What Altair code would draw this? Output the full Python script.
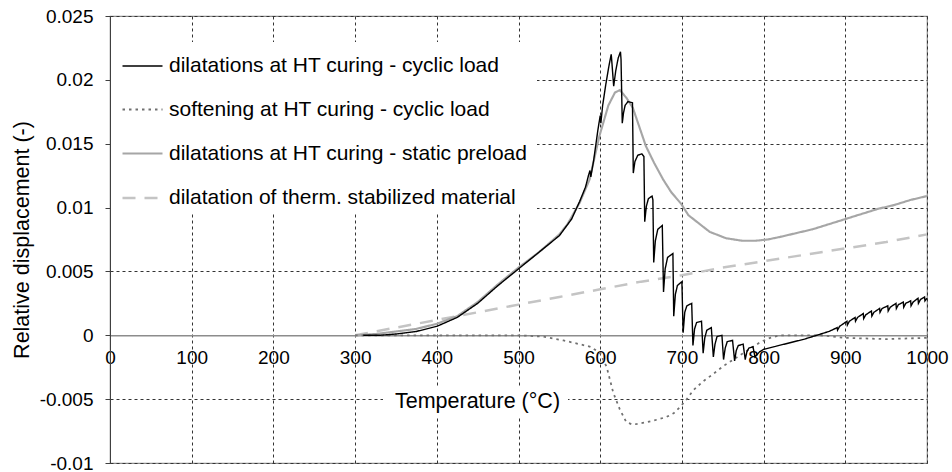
import altair as alt
import pandas as pd

series_names = [
    "dilatations at HT curing - cyclic load",
    "softening at HT curing - cyclic load",
    "dilatations at HT curing - static preload",
    "dilatation of therm. stabilized material",
]

x_ticks = [0, 100, 200, 300, 400, 500, 600, 700, 800, 900, 1000]
y_ticks = [-0.01, -0.005, 0, 0.005, 0.01, 0.015, 0.02, 0.025]

cyc_T = [310, 330, 350, 375, 400, 425, 450, 475, 500, 525, 550, 565, 575, 582, 586, 587.5, 588.5,
         592, 597, 600, 600.8, 603, 607, 611, 613.5, 614.5, 616.5, 619, 622, 624.8, 625.5, 627,
         628.5, 630.5, 634, 639.5, 640.5, 642.5, 646, 651, 653.5, 654.5, 656.5, 659, 663.5, 664.5,
         665.5, 667.5, 670.5, 676, 677.5, 679.5, 682.5, 689, 690, 692, 694.5, 700, 701.5, 703.5,
         706, 712, 713.5, 715.5, 718, 724, 726, 728, 730.5, 736, 738.5, 740.5, 743, 749, 751, 753,
         755.5, 762, 764.5, 766.5, 769, 775, 777.5, 779.5, 782, 787, 789.5, 795, 800, 825, 850,
         865, 880, 890, 890.5, 893, 902, 902.5, 905, 912, 912.5, 915, 922, 922.5, 925, 932, 932.5,
         935, 942, 942.5, 945, 952, 952.5, 955, 962, 962.5, 965, 971, 971.5, 974, 980, 980.5, 983,
         989, 989.5, 992, 997, 997.5, 1000]
cyc_V = [0.0, 0.0, 0.0001, 0.0003, 0.0007, 0.0014, 0.0025, 0.0039, 0.0052, 0.0065, 0.0078, 0.0091,
         0.0105, 0.0116, 0.0126, 0.0129, 0.0124, 0.0137, 0.0160, 0.0172, 0.0166, 0.0180, 0.0197,
         0.0212, 0.0220, 0.0212, 0.0195, 0.0207, 0.0217, 0.0222, 0.0216, 0.0166, 0.0174, 0.0180,
         0.0183, 0.0182, 0.0127, 0.0136, 0.0141, 0.0142, 0.0140, 0.0089, 0.0101, 0.0107, 0.0109,
         0.0106, 0.0057, 0.0074, 0.0083, 0.0086, 0.0034, 0.0052, 0.0061, 0.0064, 0.0015, 0.0032,
         0.0039, 0.0042, 0.0002, 0.0018, 0.0023, 0.0025, -0.0008, 0.0005, 0.0010, 0.0011, -0.0014,
         -0.0002, 0.0004, 0.0006, -0.0017, -0.0007, -0.0001, 0.0000, -0.0019, -0.0010, -0.0005,
         -0.0004, -0.0020, -0.0012, -0.0008, -0.0007, -0.0019, -0.0013, -0.0010, -0.0009, -0.0017,
         -0.0013, -0.0011, -0.0007, -0.0003, 0.0000, 0.0003, 0.0006, 0.0004, 0.0007, 0.0011, 0.0008,
         0.0011, 0.0014, 0.0011, 0.0014, 0.0017, 0.0013, 0.0016, 0.0019, 0.0015, 0.0018, 0.0021,
         0.0018, 0.0021, 0.0023, 0.0019, 0.0022, 0.0025, 0.0021, 0.0024, 0.0026, 0.0022, 0.0025,
         0.0027, 0.0023, 0.0026, 0.0029, 0.0025, 0.0028, 0.0030, 0.0027, 0.0029]

soft_T = [300, 350, 400, 450, 500, 530, 555, 575, 588, 600, 608, 616, 624, 632, 640, 648, 657, 670,
          681, 690, 698, 706, 714, 726, 739, 751, 763, 775, 787, 797, 808, 820, 845, 870, 900, 950,
          1000]
soft_V = [0.0, 0.0, 0.0, 0.0, 0.0, -0.0001, -0.0004, -0.0007, -0.0009, -0.0014, -0.0025, -0.0045,
          -0.0058, -0.0068, -0.0070, -0.0069, -0.0068, -0.0066, -0.0064, -0.0061, -0.0056, -0.0050,
          -0.0043, -0.0036, -0.0030, -0.0024, -0.0019, -0.0014, -0.0009, -0.0005, -0.0002, 0.0,
          0.0, 0.0, -0.0002, -0.0003, -0.0002]

stat_T = [300, 325, 350, 375, 400, 425, 450, 475, 500, 525, 550, 560, 575, 587, 599, 610, 618, 624,
          632, 640, 648, 656, 666, 677, 687, 699, 708, 718, 734, 754, 774, 790, 805, 820, 840, 860,
          880, 900, 920, 940, 960, 980, 1000]
stat_V = [0.0, 0.0001, 0.0003, 0.0005, 0.0009, 0.0015, 0.0026, 0.0040, 0.0053, 0.0065, 0.0079,
          0.0087, 0.0104, 0.0122, 0.0156, 0.0180, 0.0190, 0.0192, 0.0186, 0.0178, 0.0163, 0.0148,
          0.0135, 0.0122, 0.0112, 0.0103, 0.0094, 0.0089, 0.0081, 0.0076, 0.0074, 0.0074, 0.0075,
          0.0077, 0.0080, 0.0083, 0.0087, 0.0091, 0.0095, 0.0099, 0.0102, 0.0106, 0.0109]

stab_T = [300, 325, 350, 375, 400, 450, 500, 550, 600, 650, 700, 750, 800, 850, 900, 950, 1000]
stab_V = [0.0, 0.0003, 0.0006, 0.0009, 0.0012, 0.0018, 0.0024, 0.0030, 0.0036, 0.0042, 0.0047,
          0.0053, 0.0058, 0.0063, 0.0068, 0.0073, 0.0079]

line_colors = ["#000000", "#707070", "#a6a6a6", "#c4c4c4"]
line_widths = [1.4, 2.5, 3.5, 3]
line_dashes = [[1, 0], [2.5, 4], [1, 0], [13, 9]]

def frame(name, T, V):
    return pd.DataFrame({"series": name, "T": T, "V": V, "i": list(range(len(T)))})

frames = {
    series_names[0]: frame(series_names[0], cyc_T, cyc_V),
    series_names[1]: frame(series_names[1], soft_T, soft_V),
    series_names[2]: frame(series_names[2], stat_T, stat_V),
    series_names[3]: frame(series_names[3], stab_T, stab_V),
}

legend = alt.Legend(
    title=None, orient="none", legendX=11, legendY=29, labelFontSize=21,
    labelFont="Liberation Sans", labelColor="#000000", symbolSize=1600, labelOffset=5,
    rowPadding=12.5, padding=0, labelLimit=600, symbolType="stroke",
)

x_enc = alt.X("T:Q", scale=alt.Scale(domain=[0, 1000], nice=False, zero=False),
              axis=alt.Axis(values=x_ticks, format="d", offset=-127.7, grid=True, gridDash=[3, 3],
                            gridColor="#333333", gridWidth=1, ticks=False, tickSize=0,
                            labelPadding=13, labelFontSize=19, labelFlush=False,
                            labelOverlap=False, labelColor="#000000", domainColor="#8c8c8c",
                            domainWidth=1.5, title=None))
y_enc = alt.Y("V:Q", scale=alt.Scale(domain=[-0.01, 0.025], nice=False, zero=False),
              axis=alt.Axis(values=y_ticks, grid=True, gridDash=[3, 3], gridColor="#333333",
                            gridWidth=1, tickSize=5, tickColor="#404040", domainColor="#404040",
                            labelPadding=12, labelFontSize=19, labelColor="#000000",
                            labelExpr="datum.value < 0 ? '-' + format(-datum.value, '~g') : format(datum.value, '~g')",
                            title="Relative displacement (-)", titleFontSize=21.5,
                            titleFontWeight="normal", titleColor="#000000", titleX=-88,
                            titleBaseline="middle"))
color_enc = alt.Color("series:N", scale=alt.Scale(domain=series_names, range=line_colors), legend=legend)
width_enc = alt.StrokeWidth("series:N", scale=alt.Scale(domain=series_names, range=line_widths), legend=legend)
dash_enc = alt.StrokeDash("series:N", scale=alt.Scale(domain=series_names, range=line_dashes), legend=legend)

def line_layer(name):
    return alt.Chart(frames[name]).mark_line(strokeJoin="miter").encode(
        x=x_enc, y=y_enc, color=color_enc, strokeWidth=width_enc, strokeDash=dash_enc,
        order="i:Q")

one = alt.Data(values=[{"k": 1}])
legend_bg = alt.Chart(one).mark_rect(color="white").encode(
    x=alt.value(1), x2=alt.value(427), y=alt.value(26), y2=alt.value(197))
title_bg = alt.Chart(one).mark_rect(color="white").encode(
    x=alt.value(273), x2=alt.value(458), y=alt.value(370), y2=alt.value(400))
title_txt = alt.Chart(one).mark_text(
    text="Temperature (°C)", fontSize=21.5, font="Liberation Sans", align="center",
    baseline="middle", color="#000000").encode(x=alt.value(367.5), y=alt.value(385.7))

chart = alt.layer(
    line_layer(series_names[3]),
    line_layer(series_names[2]),
    line_layer(series_names[1]),
    line_layer(series_names[0]),
    legend_bg, title_bg, title_txt,
).properties(
    width=817, height=447,
    autosize=alt.AutoSizeParams(type="none"),
    padding={"left": 110, "top": 16, "right": 25, "bottom": 9},
).configure(font="Liberation Sans").configure_view(stroke="#8c8c8c", strokeWidth=1.2)

chart.save("out.html", embed_options={"renderer": "svg", "actions": False})
